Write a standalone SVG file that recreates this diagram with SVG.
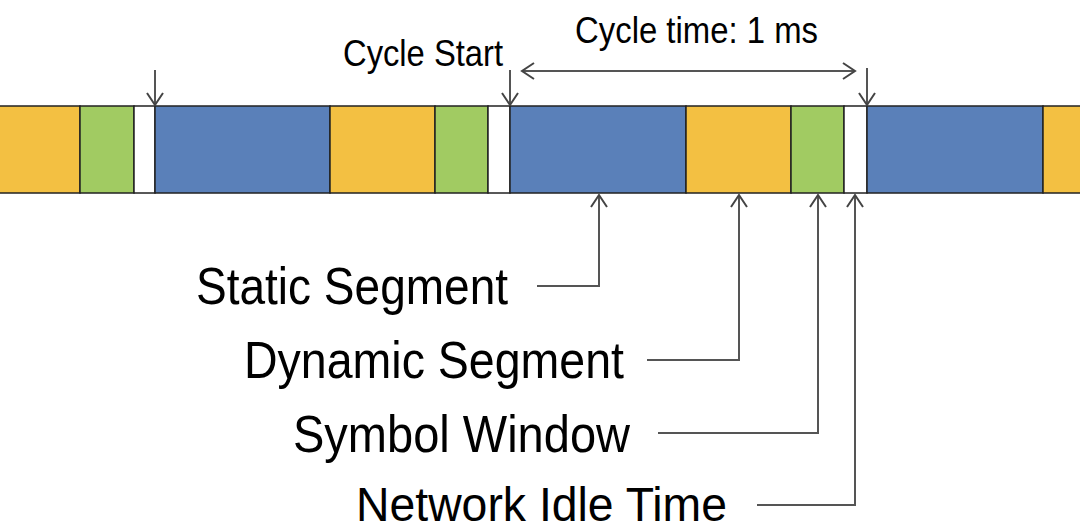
<svg xmlns="http://www.w3.org/2000/svg" width="1080" height="532" viewBox="0 0 1080 532">
<style>
.seg{stroke:#222;stroke-width:1.5}
.o{fill:#F3C042}.g{fill:#A1CB62}.b{fill:#5A80B9}.w{fill:#FFFFFF}
.lbl{font-family:"Liberation Sans",Arial,sans-serif;fill:#000}
.big{font-size:52px}
.sm{font-size:37px}
.con{fill:none;stroke:#555;stroke-width:2}
</style>
<defs>
<marker id="ah" viewBox="0 0 20 20" refX="16" refY="10" markerWidth="20" markerHeight="20" markerUnits="userSpaceOnUse" orient="auto-start-reverse">
<path d="M4,2 L16,10 L4,18" fill="none" stroke="#444" stroke-width="2"/>
</marker>
</defs>
<rect width="1080" height="532" fill="#fff"/>
<g id="bar">
<rect class="seg o" x="-2" y="106" width="82" height="87"/>
<rect class="seg g" x="80" y="106" width="54" height="87"/>
<rect class="seg w" x="134" y="106" width="21" height="87"/>
<rect class="seg b" x="155" y="106" width="175" height="87"/>
<rect class="seg o" x="330" y="106" width="105" height="87"/>
<rect class="seg g" x="435" y="106" width="53" height="87"/>
<rect class="seg w" x="488" y="106" width="22" height="87"/>
<rect class="seg b" x="510" y="106" width="176" height="87"/>
<rect class="seg o" x="686" y="106" width="105" height="87"/>
<rect class="seg g" x="791" y="106" width="53" height="87"/>
<rect class="seg w" x="844" y="106" width="23" height="87"/>
<rect class="seg b" x="867" y="106" width="176" height="87"/>
<rect class="seg o" x="1043" y="106" width="40" height="87"/>
</g>
<g id="cycle-start">
<text class="lbl sm" x="343" y="66" textLength="160" lengthAdjust="spacingAndGlyphs">Cycle Start</text>
</g>
<g id="cycle-time">
<text class="lbl sm" x="575" y="43" textLength="243" lengthAdjust="spacingAndGlyphs">Cycle time: 1 ms</text>
</g>
<g id="static-segment">
<text class="lbl big" x="196" y="304" textLength="312" lengthAdjust="spacingAndGlyphs">Static Segment</text>
</g>
<g id="dynamic-segment">
<text class="lbl big" x="244" y="378" textLength="380" lengthAdjust="spacingAndGlyphs">Dynamic Segment</text>
</g>
<g id="symbol-window">
<text class="lbl big" x="293" y="452" textLength="337" lengthAdjust="spacingAndGlyphs">Symbol Window</text>
</g>
<g id="network-idle-time">
<text class="lbl" font-size="48" x="356" y="521" textLength="371" lengthAdjust="spacingAndGlyphs">Network Idle Time</text>
</g>
<g id="connectors">
<line class="con" x1="155" y1="70" x2="155" y2="105" marker-end="url(#ah)"/>
<line class="con" x1="510" y1="70" x2="510" y2="105" marker-end="url(#ah)"/>
<line class="con" x1="867" y1="68" x2="867" y2="105" marker-end="url(#ah)"/>
<line class="con" x1="522" y1="71" x2="855" y2="71" marker-start="url(#ah)" marker-end="url(#ah)"/>
<polyline class="con" points="537,286 599,286 599,195" marker-end="url(#ah)"/>
<polyline class="con" points="647,360 739,360 739,195" marker-end="url(#ah)"/>
<polyline class="con" points="658,433 818,433 818,195" marker-end="url(#ah)"/>
<polyline class="con" points="757,505 855,505 855,195" marker-end="url(#ah)"/>
</g>
</svg>
